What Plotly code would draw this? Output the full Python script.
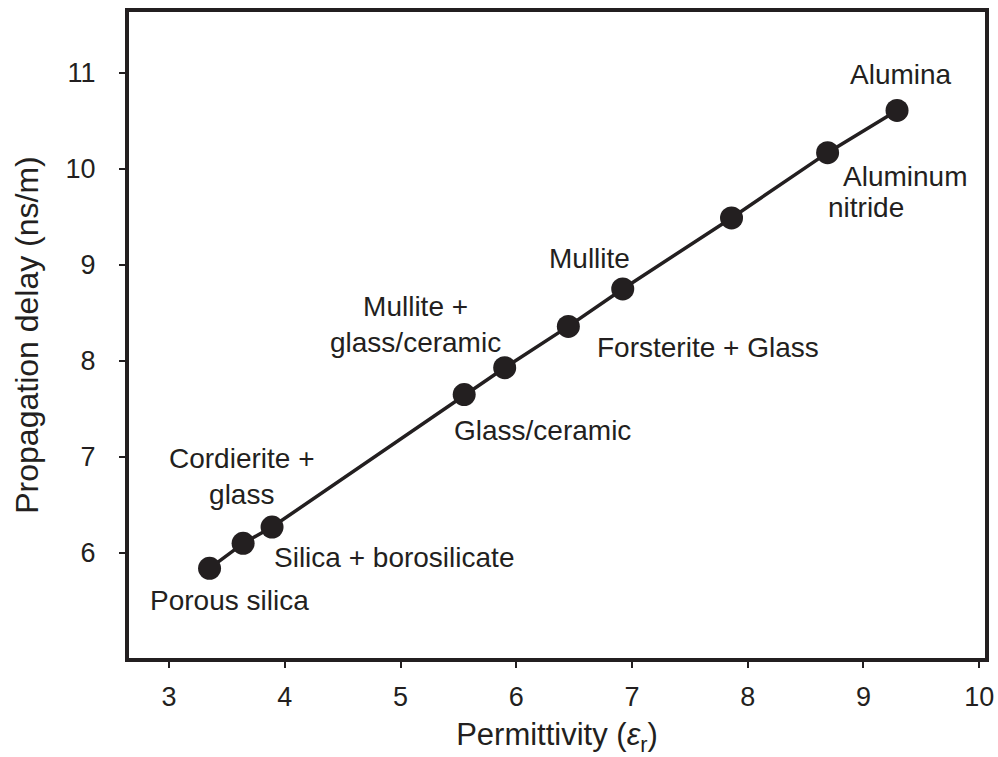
import plotly.graph_objects as go

INK = "#231f20"
FONT = "Liberation Sans, Arial, Helvetica, sans-serif"

# data
permittivity = [3.35, 3.64, 3.89, 5.55, 5.90, 6.45, 6.92, 7.86, 8.69, 9.29]
delay = [5.84, 6.10, 6.27, 7.65, 7.93, 8.36, 8.75, 9.49, 10.17, 10.61]

x_ticks = [3, 4, 5, 6, 7, 8, 9, 10]
y_ticks = [6, 7, 8, 9, 10, 11]

# label text and where it sits (data coords)
labels = ["Mullite +<br>glass/ceramic", "Mullite", "Forsterite + Glass", "Glass/ceramic",
          "Cordierite +<br>glass", "Silica + borosilicate", "Porous silica",
          "Alumina", "Aluminum", "nitride"]
label_x = [5.13, 6.63, 7.66, 6.23, 3.63, 4.94, 3.52, 9.32, 9.36, 9.02]
label_y = [8.38, 9.07, 8.14, 7.28, 6.80, 5.95, 5.51, 10.98, 9.92, 9.60]

fig = go.Figure()
fig.add_trace(go.Scatter(
    x=permittivity, y=delay, mode="lines+markers",
    line=dict(color=INK, width=3.5),
    marker=dict(size=23, color=INK),
    showlegend=False,
))

for t, lx, ly in zip(labels, label_x, label_y):
    fig.add_annotation(x=lx, y=ly, xref="x", yref="y", text=t, showarrow=False,
                       xanchor="center", yanchor="middle", align="center",
                       font=dict(family=FONT, size=28, color=INK))

axis = dict(
    showline=True, linewidth=4, linecolor=INK, mirror=True,
    ticks="outside", ticklen=6, tickwidth=2, tickcolor=INK,
    showgrid=False, zeroline=False, automargin=False,
    tickfont=dict(family=FONT, size=27, color=INK),
)

fig.update_layout(
    width=998, height=757,
    margin=dict(l=129, r=13, t=12, b=99),
    plot_bgcolor="white", paper_bgcolor="white",
    xaxis=dict(**axis, range=[2.654, 10.05], tickvals=x_ticks, ticklabelstandoff=6,
               title=dict(text="Permittivity (<i>ε</i><sub>r</sub>)", standoff=14,
                          font=dict(family=FONT, size=31, color=INK))),
    yaxis=dict(**axis, range=[4.906, 11.635], tickvals=y_ticks, ticklabelstandoff=18,
               title=dict(text="Propagation delay (ns/m)", standoff=18,
                          font=dict(family=FONT, size=32, color=INK))),
)

fig.write_html("out.html", config={"displayModeBar": False},
               post_script="document.body.style.margin='0';")
